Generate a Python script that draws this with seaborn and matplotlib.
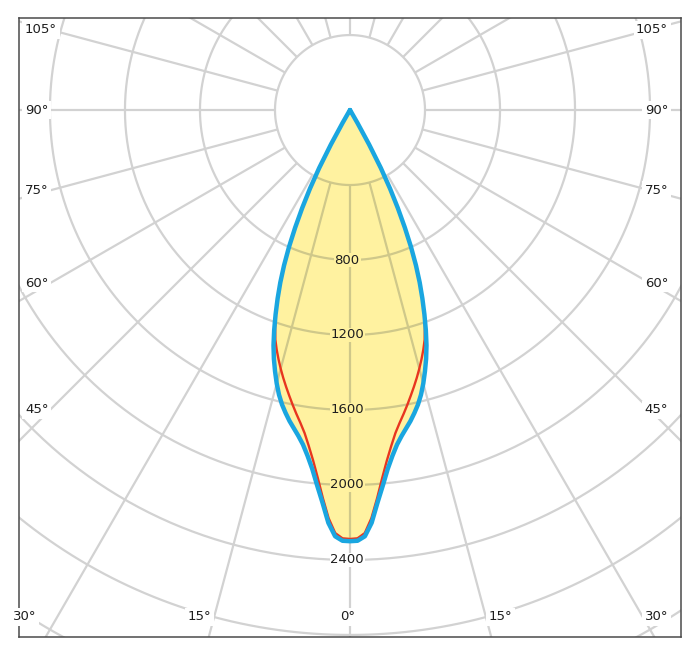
import numpy as np
import pandas as pd
import matplotlib
matplotlib.use("Agg")
import matplotlib.pyplot as plt
import seaborn as sns

# ---------------- data ----------------
angles_deg = list(range(0, 33))
# C0-C180 plane (blue), cd
c0_cd = [2300, 2298, 2275, 2205, 2100, 2010, 1925, 1858, 1802, 1760,
         1724, 1690, 1652, 1612, 1565, 1510, 1450, 1388, 1320, 1242,
         1160, 1077, 992, 900, 800, 692, 582, 470, 350, 210,
         80, 14, 0]
# C90-C270 plane (red), cd
c90_cd = [2288, 2285, 2258, 2180, 2075, 1970, 1880, 1805, 1740, 1690,
          1646, 1602, 1558, 1515, 1472, 1428, 1383, 1337, 1288, 1226,
          1158, 1077, 992, 900, 800, 692, 582, 470, 350, 210,
          80, 14, 0]

ring_values = [400, 800, 1200, 1600, 2000, 2400, 2800, 3200]
ring_labels = [800, 1200, 1600, 2000, 2400]
spoke_angles = list(range(0, 360, 15))
side_angle_labels = [45, 60, 75, 90, 105]
bottom_angle_labels = [0, 15, 30]

# ---------------- styling ----------------
sns.set_theme(style="white")
plt.rcParams["font.family"] = ["DejaVu Sans"]

BLUE = "#1aa6e0"
RED = "#e8361f"
YELLOW = "#fff2a0"
GRID = "#d2d2d2"
GRID_IN = "#cfc88a"
TEXT = "#1e1e1e"
FS = 9.5

fig = plt.figure(figsize=(7.0, 6.53), dpi=100)
ax = fig.add_axes([19 / 700, 16 / 653, 662 / 700, 619 / 653])
ax.set_xlim(-1765, 1765)
ax.set_ylim(-2811, 491)
ax.set_xticks([])
ax.set_yticks([])
for s in ax.spines.values():
    s.set_color("#4a4a4a")
    s.set_linewidth(1.1)


def curve(vals):
    a = np.array(angles_deg, dtype=float)
    v = np.array(vals, dtype=float)
    th = np.radians(np.concatenate([-a[::-1], a[1:]]))
    r = np.concatenate([v[::-1], v[1:]])
    return pd.DataFrame({"x": r * np.sin(th), "y": -r * np.cos(th)})


df_c0 = curve(c0_cd)
df_c90 = curve(c90_cd)

# yellow fill of the outer (C0) curve
fill_patch = ax.fill(df_c0["x"], df_c0["y"], color=YELLOW, lw=0, zorder=1)[0]

# polar grid: rings and spokes, drawn twice (plain, and tinted inside the fill)
t = np.linspace(0, 2 * np.pi, 721)
for colour, z, clip in [(GRID, 0.5, False), (GRID_IN, 2, True)]:
    for r in ring_values:
        ln, = ax.plot(r * np.sin(t), r * np.cos(t), color=colour, lw=1.6,
                      zorder=z, solid_capstyle="butt")
        if clip:
            ln.set_clip_path(fill_patch)
    for a in spoke_angles:
        ar = np.radians(a)
        ln, = ax.plot([400 * np.sin(ar), 3600 * np.sin(ar)],
                      [-400 * np.cos(ar), -3600 * np.cos(ar)],
                      color=colour, lw=1.6, zorder=z, solid_capstyle="butt")
        if clip:
            ln.set_clip_path(fill_patch)

# curves
sns.lineplot(data=df_c90, x="x", y="y", sort=False, estimator=None,
             color=RED, lw=1.7, ax=ax, zorder=3)
sns.lineplot(data=df_c0, x="x", y="y", sort=False, estimator=None,
             color=BLUE, lw=3.2, ax=ax, zorder=4)
ax.lines[-1].set_solid_joinstyle("round")
ax.lines[-2].set_solid_joinstyle("round")
ax.set_xlabel("")
ax.set_ylabel("")

# intensity labels along 0 deg axis
for v in ring_labels:
    inside = v < c0_cd[0]
    ax.text(-15, -v, f"{v}", ha="center", va="center", fontsize=FS,
            color=TEXT, zorder=5,
            bbox=dict(facecolor=YELLOW if inside else "white",
                      edgecolor="none", pad=0.6))

# angle labels on both sides
x_left, x_right, y_bottom = -1733, 1696, -2704
for a in side_angle_labels:
    y = -1600 * np.cos(np.radians(a)) / np.sin(np.radians(a))
    for x, ha in [(x_left, "left"), (x_right, "right")]:
        ax.text(x, y, f"{a}°", ha=ha, va="center", fontsize=FS, color=TEXT,
                zorder=5, bbox=dict(facecolor="white", edgecolor="none", pad=1.8))
for a in bottom_angle_labels:
    xa = 3000 * np.tan(np.radians(a))
    for sgn in ([1] if a == 0 else [-1, 1]):
        xx = sgn * xa
        ha = "center"
        if xx < x_left:
            xx, ha = x_left, "left"
        elif xx > x_right:
            xx, ha = x_right, "right"
        if a == 0:
            xx = -15
        ax.text(xx, y_bottom, f"{a}°", ha=ha, va="center", fontsize=FS,
                color=TEXT, zorder=5,
                bbox=dict(facecolor="white", edgecolor="none", pad=1.8))

fig.savefig("out.png", dpi=100, facecolor="white")
